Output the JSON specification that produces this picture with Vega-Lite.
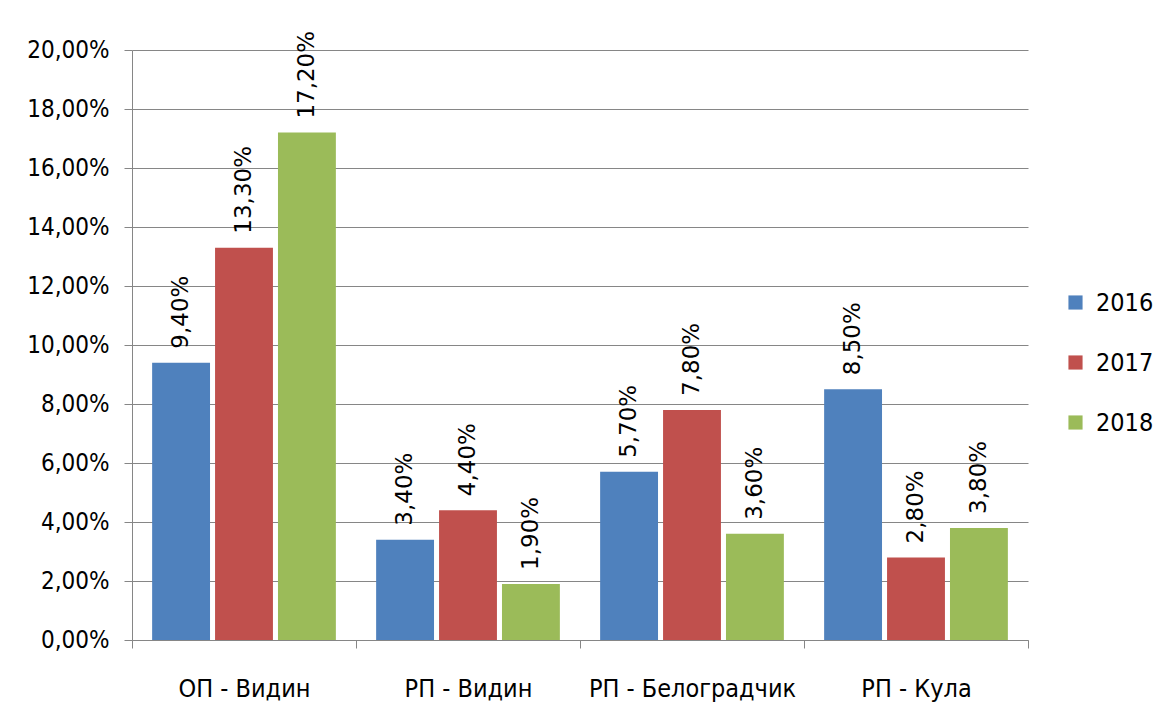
{
  "$schema": "https://vega.github.io/schema/vega-lite/v6.json",
  "width": 896,
  "height": 590,
  "autosize": {"type": "none"},
  "padding": {"left": 132, "top": 50, "right": 130, "bottom": 76},
  "background": "white",
  "config": {
    "locale": {"number": {"decimal": ",", "thousands": " ", "grouping": [3], "currency": ["", ""]}},
    "view": {"stroke": null},
    "axis": {"labelColor": "#000000", "domainColor": "#868686", "tickColor": "#868686", "gridColor": "#868686", "gridOpacity": 1, "labelFont": "DejaVu Sans Condensed, sans-serif", "labelLimit": 0}
  },
  "data": {
    "values": [
      {"region": "ОП - Видин", "year": "2016", "value": 0.094},
      {"region": "ОП - Видин", "year": "2017", "value": 0.133},
      {"region": "ОП - Видин", "year": "2018", "value": 0.172},
      {"region": "РП - Видин", "year": "2016", "value": 0.034},
      {"region": "РП - Видин", "year": "2017", "value": 0.044},
      {"region": "РП - Видин", "year": "2018", "value": 0.019},
      {"region": "РП - Белоградчик", "year": "2016", "value": 0.057},
      {"region": "РП - Белоградчик", "year": "2017", "value": 0.078},
      {"region": "РП - Белоградчик", "year": "2018", "value": 0.036},
      {"region": "РП - Кула", "year": "2016", "value": 0.085},
      {"region": "РП - Кула", "year": "2017", "value": 0.028},
      {"region": "РП - Кула", "year": "2018", "value": 0.038}
    ]
  },
  "encoding": {
    "x": {
      "field": "region", "type": "nominal",
      "sort": ["ОП - Видин", "РП - Видин", "РП - Белоградчик", "РП - Кула"],
      "scale": {"paddingInner": 0, "paddingOuter": 0},
      "axis": {"title": null, "labelAngle": 0, "tickBand": "extent", "tickSize": 8, "labelPadding": 28, "labelFontSize": 25, "grid": false}
    },
    "xOffset": {"field": "year", "type": "nominal", "scale": {"paddingInner": 0.08, "paddingOuter": 0.32}},
    "y": {
      "field": "value", "type": "quantitative",
      "scale": {"domain": [0, 0.2], "nice": false},
      "axis": {"title": null, "values": [0, 0.02, 0.04, 0.06, 0.08, 0.1, 0.12, 0.14, 0.16, 0.18, 0.2], "format": ".2%", "tickSize": 8, "labelPadding": 15, "labelFontSize": 24, "grid": true}
    }
  },
  "layer": [
    {
      "mark": {"type": "bar"},
      "encoding": {
        "color": {
          "field": "year", "type": "nominal",
          "scale": {"domain": ["2016", "2017", "2018"], "range": ["#4F81BD", "#C0504D", "#9BBB59"]},
          "legend": {"title": null, "orient": "none", "legendX": 931, "legendY": 240, "symbolType": "square", "symbolSize": 200, "symbolStrokeWidth": 0, "symbolOpacity": 1, "labelFontSize": 25, "labelFont": "DejaVu Sans Condensed, sans-serif", "labelColor": "#000000", "rowPadding": 34, "labelOffset": 8}
        }
      }
    },
    {
      "mark": {"type": "text", "angle": 270, "align": "left", "baseline": "middle", "dx": 14, "font": "DejaVu Sans", "fontSize": 23, "color": "#000000"},
      "encoding": {"text": {"field": "value", "type": "quantitative", "format": ".2%"}}
    }
  ]
}
